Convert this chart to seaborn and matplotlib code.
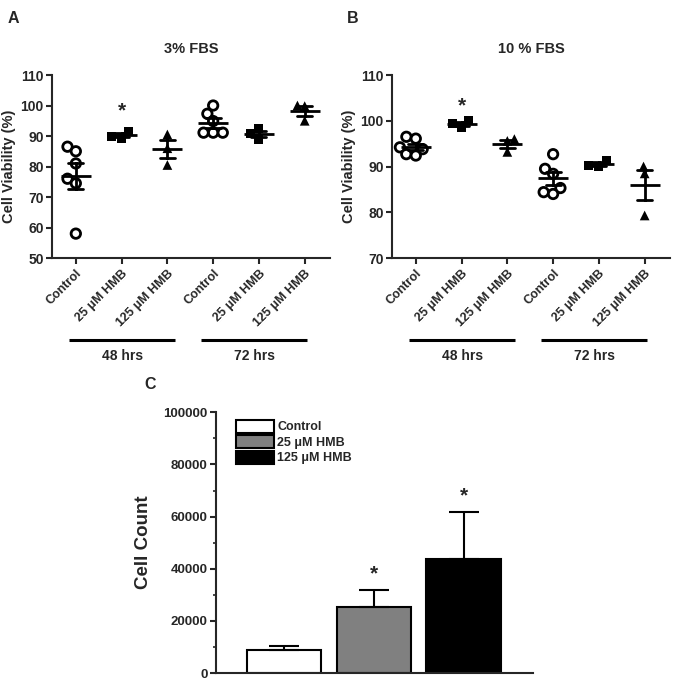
import numpy as np
import pandas as pd
import matplotlib
matplotlib.use("Agg")
import matplotlib.pyplot as plt
import seaborn as sns
from matplotlib.patches import Patch
from matplotlib.ticker import MultipleLocator

sns.set_style("ticks")
plt.rcParams['font.family'] = ['Liberation Sans', 'DejaVu Sans']
plt.rcParams['font.weight'] = 'bold'

# ---------------- data ----------------
group_keys = ["Control 48", "25 HMB 48", "125 HMB 48", "Control 72", "25 HMB 72", "125 HMB 72"]
tick_labels = ["Control", "25 \u03bcM HMB", "125 \u03bcM HMB", "Control", "25 \u03bcM HMB", "125 \u03bcM HMB"]
treatments = ["Control", "25", "125", "Control", "25", "125"]
time_labels = ["48 hrs", "72 hrs"]

# Panel A: 3% FBS
a_ctrl48 = [86.5, 85.0, 81.0, 76.0, 74.5, 58.0]
a_25_48 = [91.5, 90.0, 89.2]
a_125_48 = [90.5, 86.0, 80.5]
a_ctrl72 = [100.0, 97.3, 94.9, 91.1, 91.1, 91.1]
a_25_72 = [92.5, 90.8, 89.0]
a_125_72 = [100.0, 99.8, 95.0]

# Panel B: 10% FBS
b_ctrl48 = [96.5, 96.1, 94.2, 93.8, 92.7, 92.4]
b_25_48 = [100.0, 99.3, 98.5]
b_125_48 = [96.0, 95.6, 93.2]
b_ctrl72 = [92.7, 89.5, 88.4, 85.3, 84.4, 84.0]
b_25_72 = [91.4, 90.2, 90.0]
b_125_72 = [90.0, 88.5, 79.3]

# Panel C: cell count
c_labels = ["Control", "25 \u03bcM HMB", "125 \u03bcM HMB"]
c_means = [8700, 25450, 43860]
c_sem = [1500, 6400, 18050]
c_sig = [False, True, True]

panel_a = [a_ctrl48, a_25_48, a_125_48, a_ctrl72, a_25_72, a_125_72]
panel_b = [b_ctrl48, b_25_48, b_125_48, b_ctrl72, b_25_72, b_125_72]


def to_df(groups):
    rows = []
    for key, trt, vals in zip(group_keys, treatments, groups):
        for v in vals:
            rows.append({"group": key, "trt": trt, "value": v})
    return pd.DataFrame(rows)


fig = plt.figure(figsize=(6.81, 6.79), dpi=100)

# style, swarm packing size, final drawn size
marker_styles = {
    "Control": (dict(marker="o", color="white", edgecolor="black", linewidth=2), 4.6, 6.8),
    "25": (dict(marker="s", color="black", edgecolor="black", linewidth=0), 7.0, 6.5),
    "125": (dict(marker="^", color="black", edgecolor="black", linewidth=0), 5.0, 7.0),
}
final_sizes = []


def viability_panel(rect, groups, ylim, yticks, title, letter, star_group, star_y):
    ax = fig.add_axes(rect)
    df = to_df(groups)
    for trt, (st, layout, final) in marker_styles.items():
        sub = df[df["trt"] == trt]
        n_before = len(ax.collections)
        sns.swarmplot(data=sub, x="group", y="value", order=group_keys, ax=ax, zorder=2,
                      size=layout, warn_thresh=1.0, **st)
        for coll in ax.collections[n_before:]:
            final_sizes.append((coll, final))
    sns.pointplot(data=df, x="group", y="value", order=group_keys, errorbar="se",
                  capsize=0.33, linestyle="none", marker="_", markersize=22,
                  markeredgewidth=2, color="black", err_kws={"linewidth": 2}, ax=ax)
    for coll in ax.collections:
        coll.set_zorder(2)
    for ln in ax.lines:
        ln.set_zorder(3)
    ax.set_xlim(-0.52, 5.55)
    ax.set_ylim(*ylim)
    ax.set_yticks(yticks)
    ax.set_xticks(range(len(group_keys)))
    ax.set_xticklabels(tick_labels, rotation=45, ha="right", rotation_mode="anchor",
                       fontsize=9, fontweight="bold")
    ax.tick_params(axis="y", labelsize=10, width=1.5, length=4, pad=2)
    ax.tick_params(axis="x", width=1.5, length=4, pad=3)
    for lab in ax.get_yticklabels():
        lab.set_fontweight("bold")
    ax.set_xlabel("")
    ax.set_ylabel("Cell Viability (%)", fontsize=10.5, fontweight="bold", labelpad=3)
    sns.despine(ax=ax)
    ax.spines["left"].set_linewidth(1.5)
    ax.spines["bottom"].set_linewidth(1.5)
    ax.set_title(title, fontsize=10.5, fontweight="bold", pad=16)
    ax.text(-0.14, 1.31, letter, transform=ax.transAxes, fontsize=11.5, fontweight="bold",
            ha="center", va="center")
    ax.text(group_keys.index(star_group), star_y, "*", fontsize=15, fontweight="bold",
            ha="center", va="center")
    # time group lines
    for (x0, x1), lab in zip([(0.062, 0.443), (0.537, 0.918)], time_labels):
        ax.plot([x0, x1], [-0.45, -0.45], transform=ax.transAxes, color="black", lw=2.2,
                clip_on=False, solid_capstyle="butt")
        ax.text((x0 + x1) / 2, -0.535, lab, transform=ax.transAxes, fontsize=10,
                fontweight="bold", ha="center", va="center")
    return ax


viability_panel([0.0764, 0.620, 0.408, 0.2695], panel_a, (50, 110),
                [50, 60, 70, 80, 90, 100, 110], "3% FBS", "A", "25 HMB 48", 98.2)
viability_panel([0.5756, 0.620, 0.408, 0.2695], panel_b, (70, 110),
                [70, 80, 90, 100, 110], "10 % FBS", "B", "25 HMB 48", 103.3)

# ---------------- Panel C ----------------
axc = fig.add_axes([0.317, 0.0088, 0.4655, 0.384])
c_colors = ["white", "#808080", "black"]
cdf = pd.DataFrame({"trt": c_labels, "count": c_means})
sns.barplot(data=cdf, x="trt", y="count", hue="trt", palette=c_colors, order=c_labels,
            hue_order=c_labels, edgecolor="black", linewidth=1.5, width=0.83,
            legend=False, ax=axc)
axc.errorbar(x=np.arange(len(c_means)), y=c_means, yerr=[np.zeros(len(c_sem)), c_sem],
             fmt="none", ecolor="black", elinewidth=1.5, capsize=11, capthick=1.5, zorder=1)
for i, (m, s, sig) in enumerate(zip(c_means, c_sem, c_sig)):
    if sig:
        axc.text(i, m + s + 6000, "*", fontsize=15, fontweight="bold", ha="center", va="center")
axc.set_xlim(-0.76, 2.77)
axc.set_ylim(0, 100000)
axc.set_yticks([0, 20000, 40000, 60000, 80000, 100000])
axc.yaxis.set_minor_locator(MultipleLocator(10000))
axc.set_xticks([])
axc.tick_params(axis="y", which="major", labelsize=9.5, width=1.5, length=4, pad=2)
axc.tick_params(axis="y", which="minor", width=1.2, length=2.5)
for lab in axc.get_yticklabels():
    lab.set_fontweight("bold")
axc.set_xlabel("")
axc.set_ylabel("Cell Count", fontsize=13.5, fontweight="bold", labelpad=8)
sns.despine(ax=axc)
axc.spines["left"].set_linewidth(1.5)
axc.spines["bottom"].set_linewidth(1.5)
handles = [Patch(facecolor=c, edgecolor="black", linewidth=1.5) for c in c_colors]
axc.legend(handles, c_labels, loc="upper left", bbox_to_anchor=(0.04, 1.0), frameon=False,
           prop={"weight": "bold", "size": 9}, handlelength=3.0, handleheight=1.2,
           handletextpad=0.3, labelspacing=0.15, borderaxespad=0.2)
fig.text(0.22, 0.433, "C", fontsize=11.5, fontweight="bold", ha="center", va="center")

# pack swarms with a chosen layout size, then freeze positions and draw final-size markers
fig.canvas.draw()
for coll, final in final_sizes:
    if "draw" in coll.__dict__:
        del coll.draw
    coll.set_sizes(np.full(len(coll.get_offsets()), final ** 2))

fig.savefig("out.png", dpi=100)
